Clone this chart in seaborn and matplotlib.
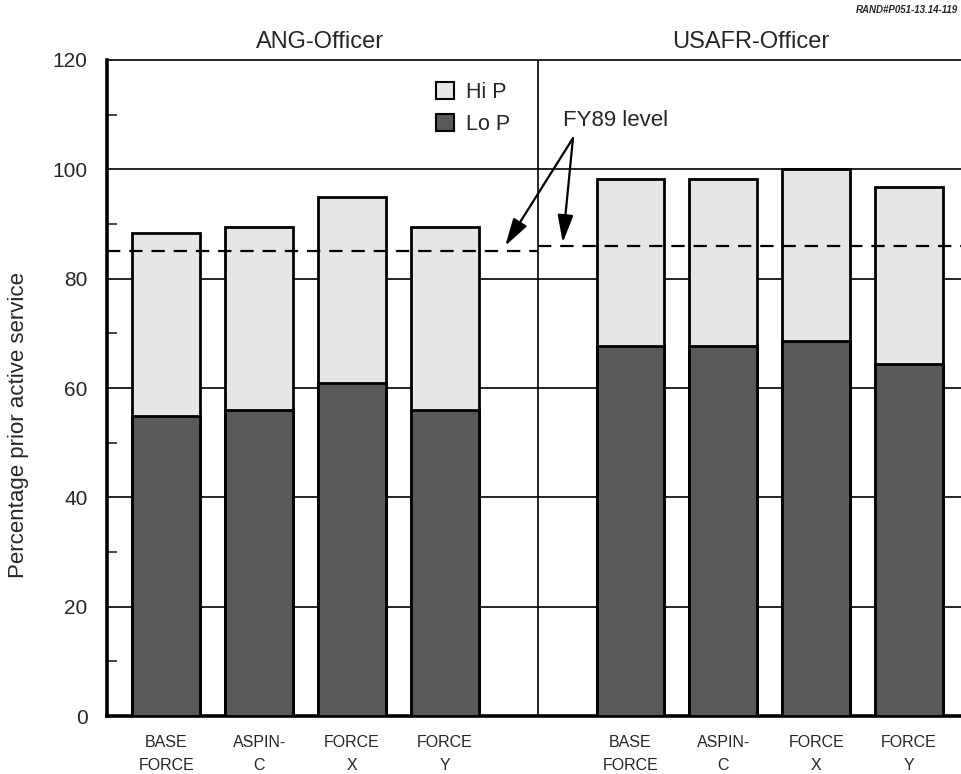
import matplotlib
matplotlib.use("Agg")
import matplotlib.pyplot as plt
import numpy as np
import pandas as pd
import seaborn as sns
from matplotlib.patches import Patch

# data
components = ["ANG-Officer"] * 4 + ["USAFR-Officer"] * 4
categories = ["BASE\nFORCE", "ASPIN-\nC", "FORCE\nX", "FORCE\nY"] * 2
slots = [0, 1, 2, 3, 5, 6, 7, 8]
total_pct = [88.3, 89.4, 94.9, 89.4, 98.2, 98.2, 100.0, 96.7]   # Hi P + Lo P
lo_p_pct = [54.8, 55.9, 60.9, 55.9, 67.6, 67.6, 68.6, 64.4]
fy89_level = {"ANG-Officer": 85.1, "USAFR-Officer": 86.0}

df = pd.DataFrame({"component": components, "category": categories, "slot": slots,
                   "total": total_pct, "lo_p": lo_p_pct})

sns.set_theme(style="white")
plt.rcParams["font.family"] = ["Liberation Sans", "DejaVu Sans"]

HI_COLOR = "#e6e6e6"
LO_COLOR = "#595959"

fig = plt.figure(figsize=(9.61, 7.74), dpi=100)
ax = fig.add_axes([0.1113, 0.0749, 0.8887, 0.8476])

# grid lines behind bars
for y in [20, 40, 60, 80, 100]:
    ax.axhline(y, color="black", lw=1.2, zorder=0)
ax.axvline(4, color="black", lw=1.2, zorder=0)

sns.barplot(data=df, x="slot", y="total", native_scale=True, width=0.73,
            color=HI_COLOR, edgecolor="black", linewidth=2, saturation=1, ax=ax, zorder=2)
sns.barplot(data=df, x="slot", y="lo_p", native_scale=True, width=0.73,
            color=LO_COLOR, edgecolor="black", linewidth=2, saturation=1, ax=ax, zorder=3)

# FY89 reference levels
ax.plot([-0.64, 4], [fy89_level["ANG-Officer"]] * 2, ls=(0, (6, 4)), color="black", lw=1.6, zorder=4)
ax.plot([4, 8.56], [fy89_level["USAFR-Officer"]] * 2, ls=(0, (6, 4)), color="black", lw=1.6, zorder=4)

ax.set_xlim(-0.64, 8.56)
ax.set_ylim(0, 120)
ax.set_yticks(range(0, 121, 20))
ax.set_yticks(range(10, 120, 20), minor=True)
ax.tick_params(axis="y", which="major", direction="in", length=0, labelsize=15, pad=14)
ax.tick_params(axis="y", which="minor", direction="in", length=7, width=1.2, left=True)
ax.set_xticks(slots)
ax.set_xticklabels(categories, fontsize=11.5, linespacing=1.6)
ax.tick_params(axis="x", length=0, pad=14)
ax.set_xlabel("")
ax.set_ylabel("Percentage prior active service", fontsize=16)
ax.yaxis.set_label_coords(-0.091, 0.444)

for side in ["left", "bottom"]:
    ax.spines[side].set_linewidth(2.6)
    ax.spines[side].set_color("black")
ax.spines["top"].set_linewidth(1.2)
ax.spines["top"].set_color("black")
ax.spines["right"].set_visible(False)

# panel titles
ax.text(1.65, 123.2, "ANG-Officer", ha="center", va="center", fontsize=17)
ax.text(6.3, 123.2, "USAFR-Officer", ha="center", va="center", fontsize=17)

# legend
handles = [Patch(facecolor=HI_COLOR, edgecolor="black", lw=1.5, label="Hi P"),
           Patch(facecolor=LO_COLOR, edgecolor="black", lw=1.5, label="Lo P")]
ax.legend(handles=handles, loc="upper left", bbox_to_anchor=(0.363, 0.996), frameon=False,
          fontsize=15.5, handlelength=0.8, handleheight=0.8, handletextpad=0.6, labelspacing=0.5)

# FY89 annotation with two arrows
ax.text(4.84, 108.9, "FY89 level", ha="center", va="center", fontsize=16)
arrow = dict(arrowstyle="-|>,head_length=1.4,head_width=0.4", color="black", lw=1.6,
             shrinkA=0, shrinkB=0)
ax.annotate("", xy=(3.65, 86.0), xytext=(4.38, 105.7), arrowprops=arrow, zorder=5)
ax.annotate("", xy=(4.27, 86.6), xytext=(4.38, 105.7), arrowprops=arrow, zorder=5)

fig.text(0.997, 0.993, "RAND#P051-13.14-119", ha="right", va="top", fontsize=7,
         style="italic", weight="bold")

fig.savefig("out.png", dpi=100)
